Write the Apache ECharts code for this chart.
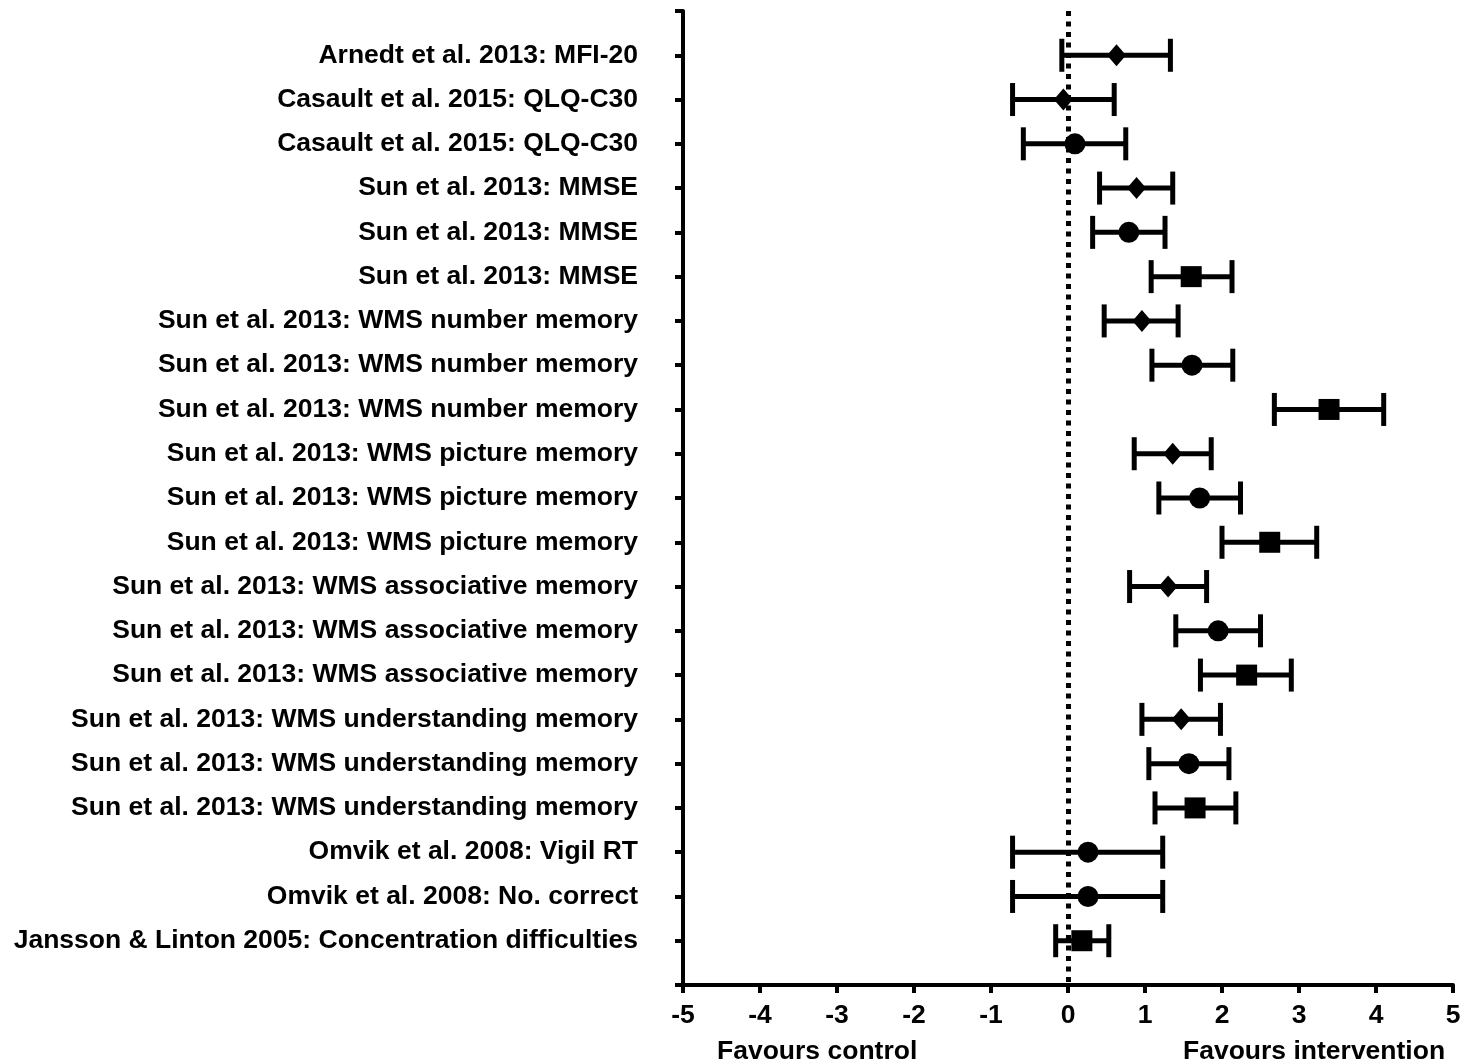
<!DOCTYPE html>
<html>
<head>
<meta charset="utf-8">
<script src="https://cdn.jsdelivr.net/npm/echarts@6/dist/echarts.min.js"></script>
<style>
  html, body { margin: 0; padding: 0; background: #fff; }
  #chart { width: 1473px; height: 1064px; }
</style>
</head>
<body>
<div id="chart"></div>
<script>
var studies = [
  "Arnedt et al. 2013: MFI-20",
  "Casault et al. 2015: QLQ-C30",
  "Casault et al. 2015: QLQ-C30",
  "Sun et al. 2013: MMSE",
  "Sun et al. 2013: MMSE",
  "Sun et al. 2013: MMSE",
  "Sun et al. 2013: WMS number memory",
  "Sun et al. 2013: WMS number memory",
  "Sun et al. 2013: WMS number memory",
  "Sun et al. 2013: WMS picture memory",
  "Sun et al. 2013: WMS picture memory",
  "Sun et al. 2013: WMS picture memory",
  "Sun et al. 2013: WMS associative memory",
  "Sun et al. 2013: WMS associative memory",
  "Sun et al. 2013: WMS associative memory",
  "Sun et al. 2013: WMS understanding memory",
  "Sun et al. 2013: WMS understanding memory",
  "Sun et al. 2013: WMS understanding memory",
  "Omvik et al. 2008: Vigil RT",
  "Omvik et al. 2008: No. correct",
  "Jansson & Linton 2005: Concentration difficulties"
]
var effect = [0.63, -0.06, 0.09, 0.89, 0.79, 1.60, 0.96, 1.61, 3.39, 1.36, 1.71, 2.62, 1.30, 1.95, 2.32, 1.47, 1.57, 1.65, 0.26, 0.26, 0.18]
var lower  = [-0.08, -0.72, -0.58, 0.41, 0.32, 1.08, 0.47, 1.09, 2.68, 0.86, 1.18, 2.00, 0.80, 1.40, 1.72, 0.96, 1.05, 1.13, -0.72, -0.72, -0.16]
var upper  = [1.33, 0.60, 0.75, 1.36, 1.26, 2.13, 1.43, 2.14, 4.10, 1.86, 2.24, 3.23, 1.80, 2.50, 2.90, 1.98, 2.09, 2.18, 1.23, 1.23, 0.53]
var shapes = ["diamond", "diamond", "circle", "diamond", "circle", "rect", "diamond", "circle", "rect",
  "diamond", "circle", "rect", "diamond", "circle", "rect", "diamond", "circle", "rect", "circle", "circle", "rect"]
var xTicks = [-5, 5, 1]

var font = "'Liberation Sans', Arial, sans-serif"
var sizes = {diamond: [19, 22], circle: 21, rect: 21}

var chart = echarts.init(document.getElementById("chart"), null, {renderer: "canvas"})

var barData = studies.map(function(s, i) { return [lower[i], upper[i], i + 1] })
var pointData = studies.map(function(s, i) {
  return {value: [effect[i], i + 1], symbol: shapes[i], symbolSize: sizes[shapes[i]]}
})

chart.setOption({
  animation: false,
  grid: {left: 683, right: 20, top: 11, bottom: 79},
  xAxis: {
    type: "value", min: xTicks[0], max: xTicks[1], interval: xTicks[2],
    splitLine: {show: false},
    axisLine: {onZero: false, lineStyle: {color: "#000", width: 4}},
    axisTick: {length: 8, lineStyle: {color: "#000", width: 4}},
    axisLabel: {color: "#000", fontFamily: font, fontWeight: "bold", fontSize: 26.5, margin: 17}
  },
  yAxis: {
    type: "value", min: 0, max: studies.length + 1, interval: 1, inverse: true,
    splitLine: {show: false},
    axisLine: {onZero: false, lineStyle: {color: "#000", width: 4}},
    axisTick: {length: 8, lineStyle: {color: "#000", width: 4}},
    axisLabel: {
      color: "#000", fontFamily: font, fontWeight: "bold", fontSize: 26.5, margin: 45,
      formatter: function(v) { return studies[v - 1] || "" }
    }
  },
  graphic: [
    {type: "text", left: 717, top: 1038, style: {text: "Favours control", fill: "#000", font: "bold 26.5px " + font}},
    {type: "text", left: 1183, top: 1038, style: {text: "Favours intervention", fill: "#000", font: "bold 26.5px " + font}}
  ],
  series: [{
    type: "custom",
    data: barData,
    renderItem: function(params, api) {
      var a = api.coord([api.value(0), api.value(2)])
      var b = api.coord([api.value(1), api.value(2)])
      var st = {stroke: "#000", lineWidth: 5}
      return {type: "group", children: [
        {type: "line", shape: {x1: a[0], y1: a[1], x2: b[0], y2: b[1]}, style: st},
        {type: "line", shape: {x1: a[0], y1: a[1] - 16.5, x2: a[0], y2: a[1] + 16.5}, style: st},
        {type: "line", shape: {x1: b[0], y1: b[1] - 16.5, x2: b[0], y2: b[1] + 16.5}, style: st}
      ]}
    },
    markLine: {
      silent: true, symbol: "none", label: {show: false},
      lineStyle: {color: "#000", width: 5, type: [5, 5.5]},
      data: [{xAxis: 0}]
    },
    z: 2
  }, {
    type: "scatter",
    data: pointData,
    itemStyle: {color: "#000", opacity: 1},
    z: 3
  }]
})
</script>
</body>
</html>
